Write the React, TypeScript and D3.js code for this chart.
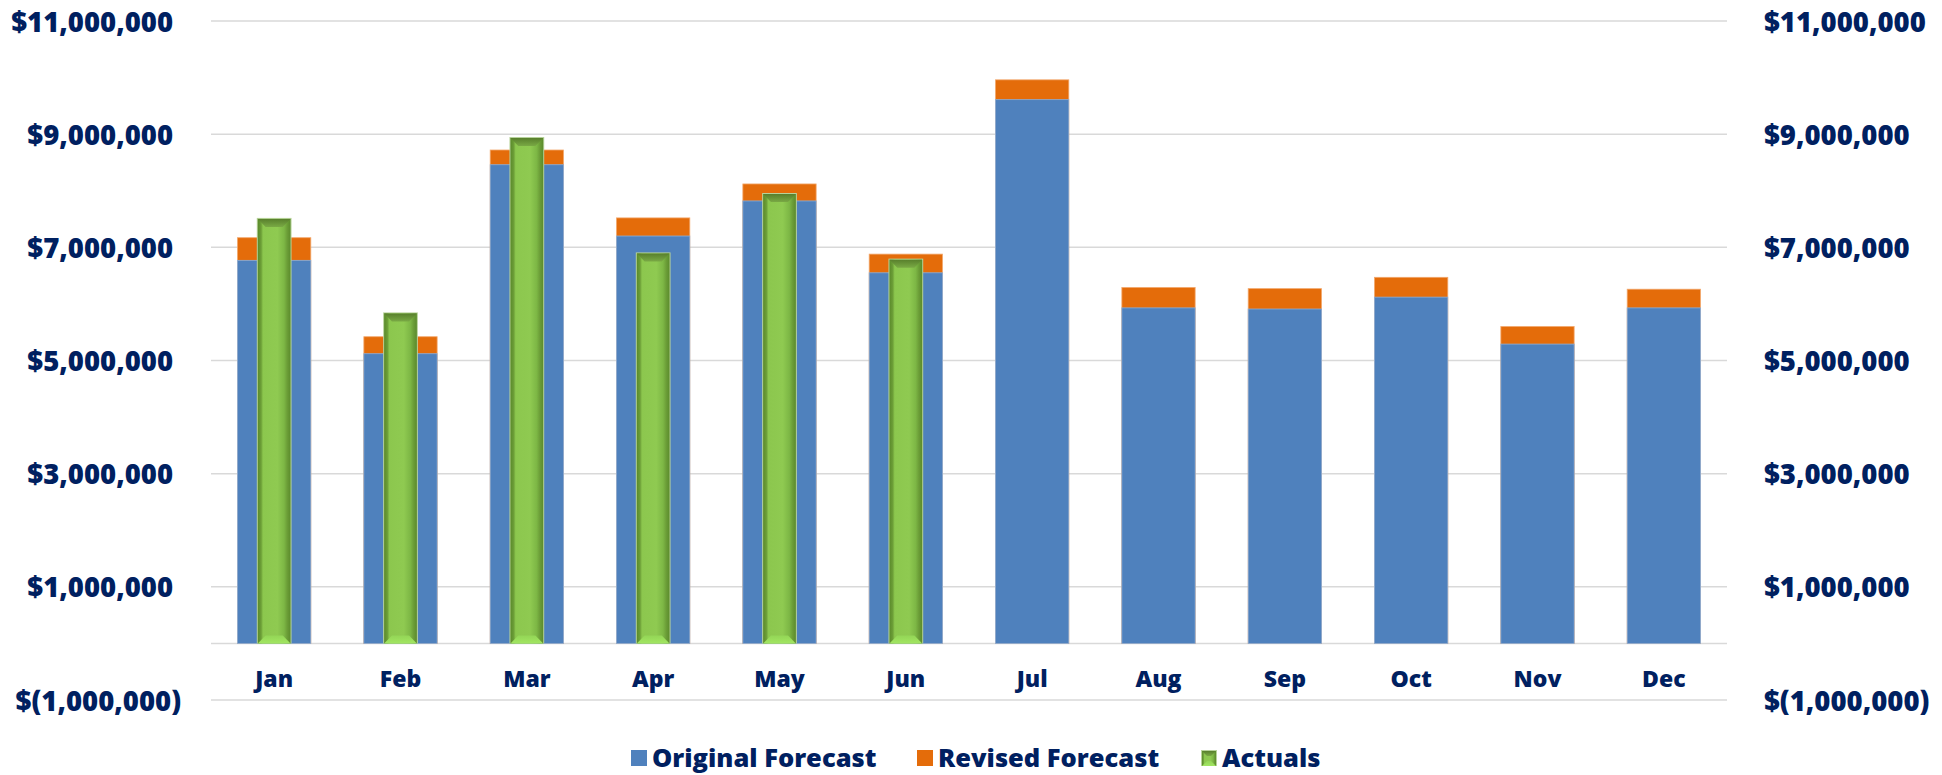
import React from "react";
import * as d3 from "d3";

// Monthly budget data (USD)
const months = ["Jan", "Feb", "Mar", "Apr", "May", "Jun", "Jul", "Aug", "Sep", "Oct", "Nov", "Dec"];
const originalForecast = [6770000, 5120000, 8460000, 7200000, 7820000, 6550000, 9610000, 5930000, 5910000, 6120000, 5290000, 5930000];
const revisedForecast = [7170000, 5420000, 8720000, 7520000, 8120000, 6880000, 9960000, 6290000, 6270000, 6470000, 5600000, 6260000];
const actuals = [7520000, 5850000, 8950000, 6910000, 7960000, 6800000];
const tickValues = [-1000000, 1000000, 3000000, 5000000, 7000000, 9000000, 11000000];
const legendItems = ["Original Forecast", "Revised Forecast", "Actuals"];

const W = 1942;
const H = 775;
const plot = { left: 211, right: 1727, top: 21, bottom: 700 };
const FONT = "'Open Sans', 'Segoe UI', sans-serif";
const NAVY = "#002060";
const BLUE = "#4F81BD";
const ORANGE = "#E46C0A";
const GRID = "#D9D9D9";

const fmt = d3.format(",");
const money = (v: number) => (v < 0 ? `$(${fmt(-v)})` : `$${fmt(v)}`);

function BevelBar({ x, y, w, h, side, top }: { x: number; y: number; w: number; h: number; side: number; top: number }) {
  const x0 = x + 1;
  const x1 = x + w - 1;
  const y0 = y + 1;
  const y1 = y + h;
  const tb = Math.min(top, h / 2);
  return (
    <g>
      <rect x={x} y={y} width={w} height={h} fill="#B7D39A" />
      <rect x={x0} y={y0} width={x1 - x0} height={y1 - y0} fill="url(#actualFace)" />
      <polygon
        points={`${x0},${y0} ${x1},${y0} ${x1 - side - tb * 0.6},${y0 + tb} ${x0 + side + tb * 0.6},${y0 + tb}`}
        fill="url(#actualTop)"
      />
      <polygon
        points={`${x0},${y1} ${x1},${y1} ${x1 - side - tb * 0.6},${y1 - tb} ${x0 + side + tb * 0.6},${y1 - tb}`}
        fill="url(#actualBottom)"
      />
    </g>
  );
}

export default function App() {
  const x = d3.scaleBand<string>().domain(months).range([plot.left, plot.right]).padding(0);
  const y = d3.scaleLinear().domain([-1000000, 11000000]).range([plot.bottom, plot.top]);
  const bw = x.bandwidth();
  const barW = bw * 0.58;
  const actW = bw * 0.275;
  const cx = (m: string) => (x(m) as number) + bw / 2;

  const legendX = [631, 917, 1201];
  const legendY = 750;
  const sq = 16;

  return (
    <svg
      width={W}
      height={H}
      viewBox={`0 0 ${W} ${H}`}
      style={{ position: "absolute", left: 0, top: 0, display: "block", background: "#fff" }}
    >
      <defs>
        <linearGradient id="actualFace" x1="0" x2="1" y1="0" y2="0">
          <stop offset="0%" stopColor="#5A8A2B" />
          <stop offset="10%" stopColor="#6C9E37" />
          <stop offset="16%" stopColor="#8CC74E" />
          <stop offset="60%" stopColor="#8FCA51" />
          <stop offset="80%" stopColor="#7DB745" />
          <stop offset="90%" stopColor="#6B9D37" />
          <stop offset="100%" stopColor="#5B8B2C" />
        </linearGradient>
        <linearGradient id="actualTop" x1="0" x2="0" y1="0" y2="1">
          <stop offset="0%" stopColor="#587F2C" />
          <stop offset="100%" stopColor="#79A944" />
        </linearGradient>
        <linearGradient id="actualBottom" x1="0" x2="0" y1="0" y2="1">
          <stop offset="0%" stopColor="#93D556" />
          <stop offset="100%" stopColor="#A2E662" />
        </linearGradient>
      </defs>

      {/* gridlines */}
      {tickValues.map((t) => (
        <line key={t} x1={plot.left} x2={plot.right} y1={y(t)} y2={y(t)} stroke={GRID} strokeWidth={1.5} />
      ))}
      <line x1={plot.left} x2={plot.right} y1={y(0)} y2={y(0)} stroke={GRID} strokeWidth={1.5} />

      {/* revised forecast behind, original forecast in front */}
      {months.map((m, i) => (
        <rect
          key={"r" + m}
          x={cx(m) - barW / 2}
          y={y(revisedForecast[i])}
          width={barW}
          height={y(0) - y(revisedForecast[i])}
          fill={ORANGE}
          stroke="#F2A66A"
          strokeWidth={0.8}
        />
      ))}
      {months.map((m, i) => (
        <rect
          key={"o" + m}
          x={cx(m) - barW / 2}
          y={y(originalForecast[i])}
          width={barW}
          height={y(0) - y(originalForecast[i])}
          fill={BLUE}
          stroke="#8DAFD8"
          strokeWidth={0.8}
        />
      ))}

      {/* actuals */}
      {actuals.map((v, i) => (
        <BevelBar
          key={"a" + i}
          x={cx(months[i]) - actW / 2}
          y={y(v)}
          w={actW}
          h={y(0) - y(v)}
          side={3}
          top={8}
        />
      ))}

      {/* axis labels */}
      {tickValues.map((t) => (
        <text
          key={"l" + t}
          x={t < 0 ? 181 : 173}
          y={y(t) + 10.5}
          textAnchor="end"
          fontFamily={FONT}
          fontWeight={800}
          fontSize={27.5}
          fill={NAVY}
        >
          {money(t)}
        </text>
      ))}
      {tickValues.map((t) => (
        <text
          key={"rl" + t}
          x={1764}
          y={y(t) + 10.5}
          textAnchor="start"
          fontFamily={FONT}
          fontWeight={800}
          fontSize={27.5}
          fill={NAVY}
        >
          {money(t)}
        </text>
      ))}

      {/* category labels */}
      {months.map((m) => (
        <text
          key={"m" + m}
          x={cx(m)}
          y={687}
          textAnchor="middle"
          fontFamily={FONT}
          fontWeight={800}
          fontSize={23}
          fill={NAVY}
        >
          {m}
        </text>
      ))}

      {/* legend */}
      <rect x={legendX[0]} y={legendY} width={sq} height={sq} fill={BLUE} />
      <rect x={legendX[1]} y={legendY} width={sq} height={sq} fill={ORANGE} />
      <BevelBar x={legendX[2]} y={legendY} w={sq} h={sq} side={2} top={5} />
      {legendItems.map((name, i) => (
        <text
          key={name}
          x={legendX[i] + sq + 5}
          y={legendY + 17}
          fontFamily={FONT}
          fontWeight={800}
          fontSize={25.5}
          fill={NAVY}
        >
          {name}
        </text>
      ))}
    </svg>
  );
}
